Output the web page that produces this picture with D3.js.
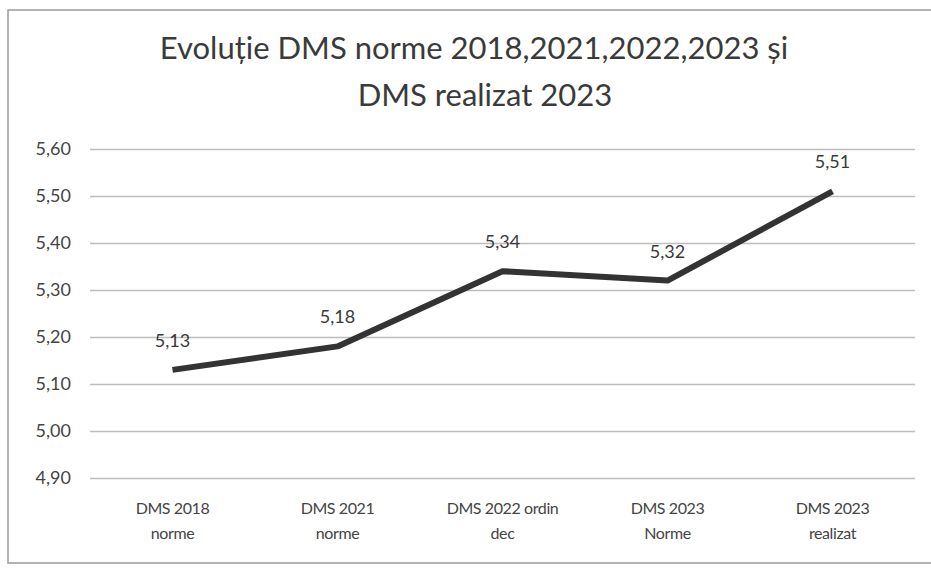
<!DOCTYPE html>
<html>
<head>
<meta charset="utf-8">
<script src="https://cdn.jsdelivr.net/npm/d3@7"></script>
<style>
  body { margin: 0; background: #fff; }
  text { font-family: Lato, "Open Sans", sans-serif; }
</style>
</head>
<body>
<svg id="chart"></svg>
<script>
// DMS chart

var categories = [
  ["DMS 2018", "norme"],
  ["DMS 2021", "norme"],
  ["DMS 2022 ordin", "dec"],
  ["DMS 2023", "Norme"],
  ["DMS 2023", "realizat"]
];
var values = [5.13, 5.18, 5.34, 5.32, 5.51];
var yTicks = [4.90, 5.00, 5.10, 5.20, 5.30, 5.40, 5.50, 5.60];
var titleLines = ["Evoluție DMS norme 2018,2021,2022,2023 și", "DMS realizat 2023"];

var width = 931, height = 568;
var margin = {left: 90, right: 16, top: 149, bottom: 90};

var chart = d3.select("#chart").attr("width", width).attr("height", height);

// outer frame
chart.append("rect")
    .attr("x", 8).attr("y", 10)
    .attr("width", width + 10).attr("height", 553)
    .style("fill", "none").style("stroke", "#9a9a9a").style("stroke-width", 1.5);

var xscale = d3.scaleBand()
    .domain(d3.range(categories.length))
    .range([margin.left, width - margin.right]);

var yscale = d3.scaleLinear()
    .domain([4.90, 5.60])
    .range([height - margin.bottom, margin.top]);

var fmt = function(v) { return d3.format(".2f")(v).replace(".", ","); };

// title
chart.append("text")
    .attr("y", 59)
    .attr("text-anchor", "middle")
    .style("font-size", "31px").style("fill", "#3a3a3a")
    .selectAll("tspan").data(titleLines).enter()
    .append("tspan")
    .attr("x", function(d, i) { return i == 0 ? 474 : 485; })
    .attr("dy", function(d, i) { return i == 0 ? 0 : 47; })
    .text(function(d) { return d; });

// gridlines + y axis
var yAxis = d3.axisLeft(yscale)
    .tickValues(yTicks)
    .tickSize(-(width - margin.left - margin.right))
    .tickPadding(19)
    .tickFormat(fmt);

var gy = chart.append("g")
    .attr("transform", "translate(" + margin.left + ",0)")
    .call(yAxis);
gy.select(".domain").remove();
gy.selectAll("line").style("stroke", "#bdbdbd").style("stroke-width", 1.3);
gy.selectAll("text").style("font-size", "18px").style("fill", "#444")
    .style("font-family", "Lato, sans-serif");

// x labels
var xl = chart.append("g").selectAll("text").data(categories).enter()
    .append("text")
    .attr("text-anchor", "middle")
    .style("font-size", "16px").style("fill", "#444")
    .style("letter-spacing", "-0.4px");
xl.selectAll("tspan").data(function(d) { return d; }).enter()
    .append("tspan")
    .attr("dy", function(d, i) { return i == 0 ? 0 : 25; })
    .text(function(d) { return d; });
xl.each(function(d, i) {
  var cx = xscale(i) + xscale.bandwidth() / 2;
  d3.select(this).attr("y", 514).selectAll("tspan").attr("x", cx);
});

// line
var line = d3.line()
    .x(function(d, i) { return xscale(i) + xscale.bandwidth() / 2; })
    .y(function(d) { return yscale(d); });

chart.append("path")
    .datum(values)
    .attr("d", line)
    .style("stroke", "#333")
    .style("stroke-width", 6)
    .style("fill", "none")
    .style("stroke-linejoin", "round");

// data labels
chart.append("g").selectAll("text").data(values).enter()
    .append("text")
    .attr("x", function(d, i) { return xscale(i) + xscale.bandwidth() / 2; })
    .attr("y", function(d) { return yscale(d) - 23; })
    .attr("text-anchor", "middle")
    .style("font-size", "18px").style("fill", "#3a3a3a")
    .text(function(d) { return fmt(d); });
</script>
</body>
</html>
